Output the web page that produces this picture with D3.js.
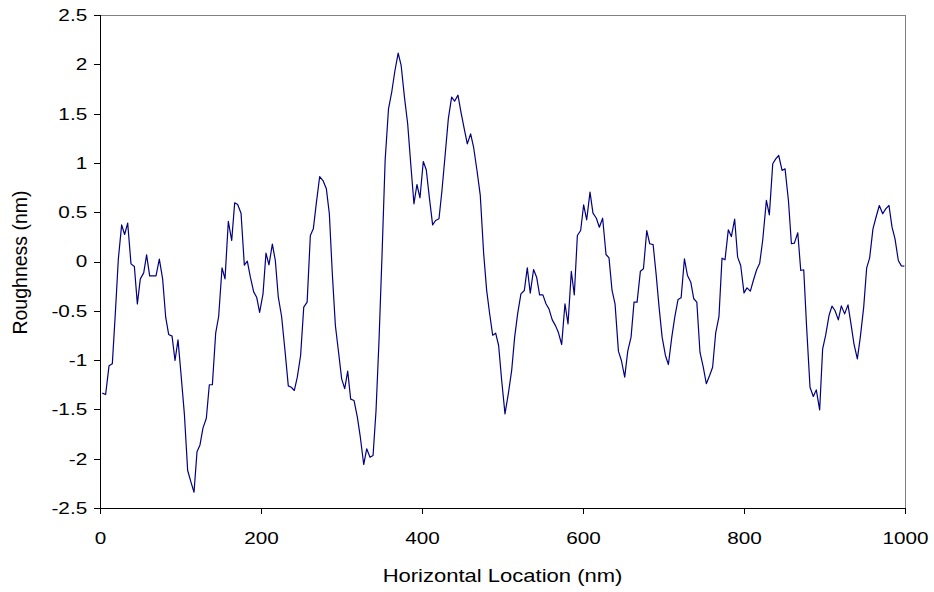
<!DOCTYPE html>
<html>
<head>
<meta charset="utf-8">
<script src="https://cdn.jsdelivr.net/npm/d3@7"></script>
<style>
  html, body { margin: 0; padding: 0; background: #fff; }
  svg { display: block; }
  text { font-family: "Liberation Sans", Arial, sans-serif; fill: #000; }
</style>
</head>
<body>
<svg id="chart" width="934" height="592"></svg>
<script>
// Surface profile: horizontal location (nm) and roughness (nm)
const locationNm = [
  2.9,7.0,11.2,15.3,19.0,22.8,26.9,30.6,34.4,38.5,42.7,46.4,50.1,54.3,57.9,61.7,65.8,69.6,73.7,77.8,81.6,85.3,89.5,93.2,96.9,100.6,104.8,108.9,113.0,116.8,
  120.5,124.2,127.9,132.1,135.8,139.6,143.7,147.4,151.6,155.3,159.4,163.6,167.3,171.0,175.2,179.3,183.0,186.8,190.9,194.6,198.3,202.5,206.2,209.9,214.1,217.8,221.5,225.6,229.8,233.9,237.6,241.4,245.1,249.2,
  253.1,257.3,261.3,265.0,268.7,272.9,277.0,281.2,284.9,288.6,292.4,296.1,300.2,304.0,307.7,311.4,315.6,319.7,323.4,327.6,331.3,335.4,339.2,342.9,346.6,350.4,354.2,358.4,362.5,366.2,370.4,374.1,
  378.3,382.2,386.0,390.0,393.7,397.5,401.6,405.3,409.1,413.2,416.9,421.1,424.8,428.5,432.7,436.8,440.5,444.7,448.4,452.5,456.3,460.4,464.1,468.3,472.4,476.6,480.3,484.0,487.8,491.5,495.2,499.0,503.1,
  507.2,511.4,515.1,518.8,522.9,527.1,530.8,534.5,538.6,542.4,546.1,550.2,554.0,557.7,561.8,566.0,569.3,573.5,577.6,581.4,585.5,589.2,593.0,597.1,600.8,604.6,608.7,612.4,616.6,620.3,624.4,
  628.6,632.3,636.1,639.8,644.0,647.7,651.8,655.6,659.7,663.4,667.2,671.3,675.1,679.2,682.9,687.1,690.8,694.5,698.3,702.4,706.1,710.3,714.0,718.1,721.9,726.0,729.8,733.9,737.6,741.4,
  745.3,749.4,753.2,757.3,761.0,764.8,768.9,772.7,776.4,780.5,784.3,788.4,792.1,795.9,800.0,803.7,807.9,811.6,815.7,819.5,823.2,827.8,831.5,835.7,839.4,843.1,847.3,851.0,855.2,858.9,862.6,866.8,870.5,874.2,
  877.8,882.0,886.1,889.8,894.0,897.7,901.4,905.6,909.3,913.0,917.2,920.9,925.0,929.2,932.9,936.6,940.8,944.5,948.7,952.4,956.1,960.2,964.0,968.1,972.3,976.0,980.1,983.9,987.6,991.7,995.5,999.2
];
const roughnessNm = [
  -1.335,-1.349,-1.058,-1.038,-0.531,0.027,0.372,0.274,0.389,-0.024,-0.051,-0.43,-0.176,-0.115,0.068,-0.145,-0.145,-0.145,0.024,-0.176,-0.565,-0.74,-0.757,-1.004,-0.795,-1.139,-1.545,-2.12,-2.238,-2.34,
  -1.93,-1.86,-1.69,-1.59,-1.25,-1.25,-0.727,-0.558,-0.064,-0.176,0.406,0.213,0.595,0.578,0.49,-0.037,0.003,-0.159,-0.308,-0.362,-0.517,-0.328,0.085,-0.034,0.176,0.01,-0.362,-0.558,-0.903,-1.261,-1.275,-1.308,-1.173,-0.953,
  -0.463,-0.412,0.264,0.331,0.59,0.862,0.821,0.737,0.484,-0.125,-0.649,-0.903,-1.19,-1.29,-1.112,-1.396,-1.41,-1.579,-1.782,-2.059,-1.9,-1.985,-1.968,-1.511,-0.801,0.078,1.024,1.549,1.724,1.927,2.113,1.988,
  1.66,1.397,0.991,0.585,0.781,0.646,1.014,0.93,0.652,0.372,0.416,0.433,0.72,1.057,1.447,1.667,1.626,1.687,1.515,1.346,1.193,1.294,1.159,0.923,0.67,0.081,-0.29,-0.527,-0.748,-0.727,-0.852,-1.207,-1.545,
  -1.342,-1.105,-0.767,-0.531,-0.328,-0.294,-0.064,-0.321,-0.081,-0.159,-0.338,-0.338,-0.429,-0.48,-0.592,-0.653,-0.717,-0.842,-0.429,-0.632,-0.101,-0.338,0.264,0.314,0.575,0.423,0.703,0.49,0.439,0.348,0.439,
  0.071,0.037,-0.294,-0.429,-0.909,-1.004,-1.173,-0.909,-0.767,-0.412,-0.412,-0.098,-0.074,0.314,0.18,0.172,-0.125,-0.463,-0.767,-0.953,-1.045,-0.767,-0.565,-0.385,-0.368,0.027,-0.142,-0.21,-0.378,-0.412,
  -0.92,-1.072,-1.24,-1.156,-1.072,-0.727,-0.558,0.034,0.017,0.321,0.253,0.429,0.044,-0.041,-0.318,-0.267,-0.301,-0.193,-0.084,-0.017,0.213,0.619,0.473,0.991,1.041,1.075,0.923,0.94,0.619,0.18,0.186,0.291,-0.091,-0.084,
  -0.666,-1.275,-1.369,-1.302,-1.504,-0.885,-0.75,-0.548,-0.453,-0.497,-0.592,-0.45,-0.531,-0.44,-0.632,-0.835,-0.987,-0.767,-0.463,-0.064,0.037,0.331,0.449,0.568,0.484,0.534,0.568,0.348,0.23,0.01,-0.044,-0.047
];
const xTicks = [0, 200, 400, 600, 800, 1000];
const yTicks = [-2.5, -2, -1.5, -1, -0.5, 0, 0.5, 1, 1.5, 2, 2.5];
const xTitle = "Horizontal Location (nm)";
const yTitle = "Roughness (nm)";

const svg = d3.select("#chart");
const plot = { left: 100, right: 905, top: 15, bottom: 508 };
const stretch = 1.22; // labels are set slightly wide

const x = d3.scaleLinear().domain([0, 1000]).range([plot.left, plot.right]);
const y = d3.scaleLinear().domain([-2.5, 2.5]).range([plot.bottom, plot.top]);

// plot area frame
svg.append("rect")
  .attr("x", plot.left).attr("y", plot.top)
  .attr("width", plot.right - plot.left).attr("height", plot.bottom - plot.top)
  .attr("fill", "none").attr("stroke", "#808080").attr("stroke-width", 1)
  .attr("shape-rendering", "crispEdges");

const fmt = d => String(d);

const xAxis = svg.append("g")
  .attr("transform", `translate(0,${plot.bottom})`)
  .call(d3.axisBottom(x).tickValues(xTicks).tickFormat(fmt).tickSize(6).tickPadding(18));
const yAxis = svg.append("g")
  .attr("transform", `translate(${plot.left},0)`)
  .call(d3.axisLeft(y).tickValues(yTicks).tickFormat(fmt).tickSize(6).tickPadding(4.5));

[xAxis, yAxis].forEach(g => {
  g.select(".domain").attr("stroke", "#000").attr("shape-rendering", "crispEdges");
  g.selectAll(".tick line").attr("stroke", "#000").attr("shape-rendering", "crispEdges");
  g.selectAll(".tick text")
    .attr("font-family", "Liberation Sans, Arial, sans-serif")
    .attr("font-size", 17).attr("fill", "#000")
    .attr("transform", `scale(${stretch},1)`);
});

// profile line
const pts = locationNm.map((v, i) => [v, roughnessNm[i]]);
svg.append("path")
  .datum(pts)
  .attr("fill", "none")
  .attr("stroke", "#000080")
  .attr("stroke-width", 1.2)
  .attr("stroke-linejoin", "round")
  .attr("d", d3.line().x(d => x(d[0])).y(d => y(d[1])));

// axis titles
svg.append("text")
  .attr("transform", `translate(${(plot.left + plot.right) / 2},582) scale(1.19,1)`)
  .attr("text-anchor", "middle").attr("font-size", 18.5)
  .text(xTitle);
svg.append("text")
  .attr("transform", `translate(27,${(plot.top + plot.bottom) / 2 + 1}) rotate(-90)`)
  .attr("text-anchor", "middle").attr("font-size", 19.5)
  .text(yTitle);
</script>
</body>
</html>
